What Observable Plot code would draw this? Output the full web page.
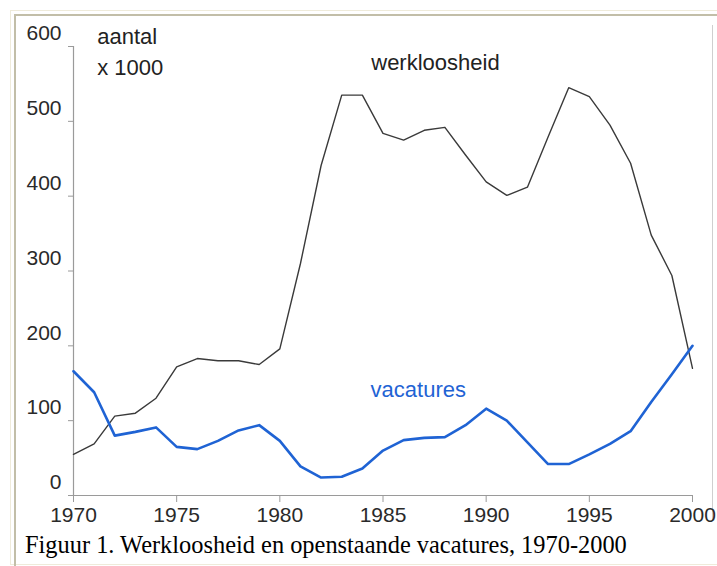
<!DOCTYPE html>
<html>
<head>
<meta charset="utf-8">
<script src="https://cdn.jsdelivr.net/npm/d3@7"></script>
<script src="https://cdn.jsdelivr.net/npm/@observablehq/plot@0.6"></script>
<style>
  html, body { margin: 0; padding: 0; background: #fff; }
  #wrap { position: relative; width: 717px; height: 566px; overflow: hidden; }
  #outer { position: absolute; left: 10px; top: 10px; width: 720px; height: 553px;
           border-left: 1px solid #efebda; border-top: 1px solid #efebda; border-bottom: 1px solid #efebda; }
  #inner { position: absolute; left: 14px; top: 14px; width: 720px; height: 560px;
           border-left: 2px solid #c2bea8; border-top: 2px solid #c2bea8; }
  #rightline { position: absolute; left: 712px; top: 25px; width: 1px; height: 495px; background: #cfcfcf; }
  #chart { position: absolute; left: 0; top: 0; }
  #caption { position: absolute; left: 25px; top: 533px; font: 24.4px/24px "Liberation Serif", "Times New Roman", serif; color: #000; white-space: nowrap; }
</style>
</head>
<body>
<div id="wrap">
  <div id="outer"></div>
  <div id="inner"></div>
  <div id="rightline"></div>
  <div id="chart"></div>
  <div id="caption">Figuur 1. Werkloosheid en openstaande vacatures, 1970-2000</div>
</div>
<script>
const years = [1970, 1971, 1972, 1973, 1974, 1975, 1976, 1977, 1978, 1979,
               1980, 1981, 1982, 1983, 1984, 1985, 1986, 1987, 1988, 1989,
               1990, 1991, 1992, 1993, 1994, 1995, 1996, 1997, 1998, 1999, 2000];
const werkloosheid = [55, 69, 106, 110, 130, 172, 183, 180, 180, 175,
                      196, 310, 441, 535, 535, 484, 475, 488, 492, 455,
                      419, 401, 412, 479, 545, 533, 495, 444, 348, 294, 170];
const vacatures = [166, 138, 80, 85, 91, 65, 62, 73, 87, 94,
                   73, 39, 24, 25, 36, 60, 74, 77, 78, 94,
                   116, 100, 71, 42, 42, 55, 69, 86, 125, 162, 200];
const xTicks = [1970, 1975, 1980, 1985, 1990, 1995, 2000];
const yTicks = [0, 100, 200, 300, 400, 500, 600];
const labelTexts = ["aantal", "x 1000", "werkloosheid"];
const labelYears = [1971.15, 1971.15, 1984.43];
const labelValues = [603, 562, 568];
const seriesLabel = [{text: "vacatures", year: 1984.4, value: 131}];

const data = years.map((year, i) => ({year, werkloosheid: werkloosheid[i], vacatures: vacatures[i]}));
const labels = labelTexts.map((text, i) => ({text, year: labelYears[i], value: labelValues[i]}));
const blue = "#1f63d4";

const chart = Plot.plot({
  width: 717,
  height: 530,
  marginLeft: 73,
  marginRight: 25,
  marginTop: 46,
  marginBottom: 35,
  style: {fontFamily: "'Liberation Sans', Arial, sans-serif", background: "transparent", overflow: "visible"},
  x: {domain: [1970, 2000]},
  y: {domain: [0, 600]},
  marks: [
    Plot.ruleY([0], {stroke: "#9a9a9a", strokeWidth: 1.2}),
    Plot.ruleX([1970], {stroke: "#9a9a9a", strokeWidth: 1.2}),
    Plot.axisX({ticks: xTicks, tickFormat: d => String(d), tickSize: 7, tickPadding: 5,
                fontSize: 21, stroke: "#9a9a9a", fill: "#2a2a2a", label: null}),
    Plot.axisY({ticks: yTicks, tickSize: 5, text: null, stroke: "#9a9a9a", label: null}),
    Plot.axisY({ticks: yTicks, tickSize: 0, tickPadding: 12, dy: -13,
                fontSize: 21, fill: "#2a2a2a", label: null}),
    Plot.line(data, {x: "year", y: "werkloosheid", stroke: "#3a3a3a", strokeWidth: 1.4}),
    Plot.line(data, {x: "year", y: "vacatures", stroke: blue, strokeWidth: 2.6}),
    Plot.text(labels, {x: "year", y: "value", text: "text", textAnchor: "start", lineAnchor: "bottom",
                       fontSize: 22, fill: "#222"}),
    Plot.text(seriesLabel, {x: "year", y: "value", text: "text", textAnchor: "start", lineAnchor: "bottom",
                            fontSize: 22, fill: blue})
  ]
});
document.getElementById("chart").appendChild(chart);
</script>
</body>
</html>
